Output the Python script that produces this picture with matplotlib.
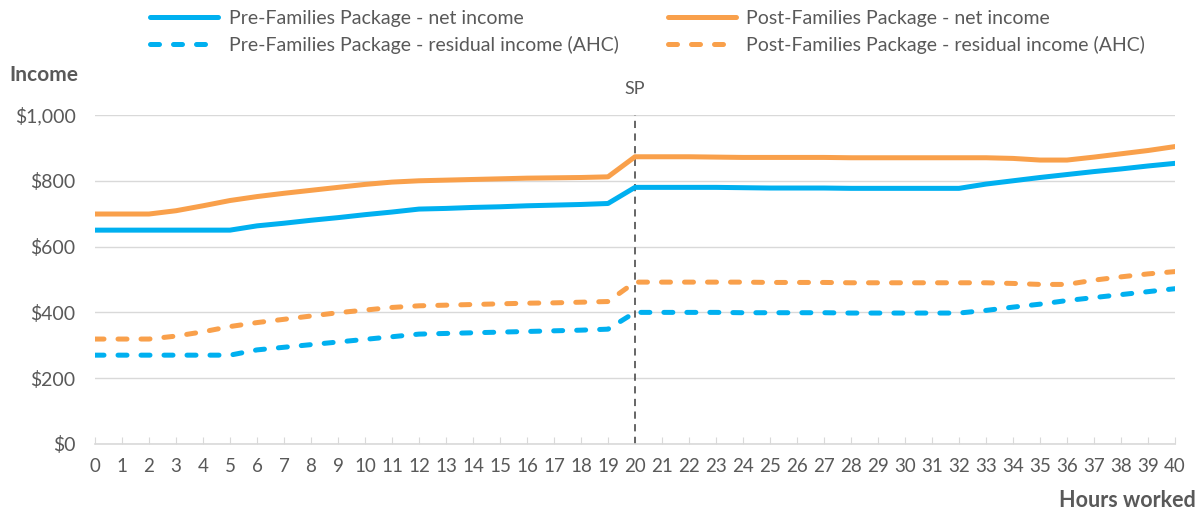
import matplotlib.pyplot as plt
from matplotlib.ticker import FuncFormatter

hours = list(range(0, 41))

pre_net = [650, 650, 650, 650, 650, 650, 663, 671, 680, 688, 697, 705, 714,
           716, 719, 721, 724, 726, 728, 731,
           780, 780, 780, 780, 779, 778, 778, 778, 777, 777, 777, 777, 777,
           790, 800, 810, 819, 828, 836, 845, 853]
post_net = [699, 699, 699, 709, 724, 740, 752, 762, 771, 780, 789, 796, 800,
            802, 804, 806, 808, 809, 810, 812,
            873, 873, 873, 872, 871, 871, 871, 871, 870, 870, 870, 870, 870,
            870, 868, 863, 863, 872, 882, 892, 904]
pre_resid = [270, 270, 270, 270, 270, 270, 286, 294, 302, 310, 318, 326, 334,
             336, 338, 340, 342, 344, 346, 349,
             400, 400, 400, 400, 399, 399, 399, 399, 398, 398, 398, 398, 398,
             406, 416, 425, 436, 445, 454, 463, 472]
post_resid = [319, 319, 319, 328, 341, 357, 369, 379, 389, 399, 407, 415, 420,
              422, 424, 426, 428, 429, 431, 433,
              492, 492, 492, 492, 492, 491, 491, 491, 490, 490, 490, 490, 490,
              490, 488, 485, 485, 498, 508, 517, 524]

sp_hours = 20

blue = '#00B0F0'
orange = '#F9A04B'
grey_text = '#595959'

plt.rcParams['font.family'] = ['Lato', 'DejaVu Sans']

fig = plt.figure(figsize=(12.04, 5.14), dpi=100)
ax = fig.add_axes([0.0789, 0.1362, 0.897, 0.6401])

dash = (1.8, 2.8)
l1, = ax.plot(hours, pre_net, color=blue, lw=3.6, solid_capstyle='round',
              label='Pre-Families Package - net income')
l2, = ax.plot(hours, pre_resid, color=blue, lw=3.6, dashes=dash, dash_capstyle='round',
              label='Pre-Families Package - residual income (AHC)')
l3, = ax.plot(hours, post_net, color=orange, lw=3.6, solid_capstyle='round',
              label='Post-Families Package - net income')
l4, = ax.plot(hours, post_resid, color=orange, lw=3.6, dashes=dash, dash_capstyle='round',
              label='Post-Families Package - residual income (AHC)')

ax.axvline(sp_hours, ymin=0, ymax=1, color=grey_text, lw=1.3, dashes=(4, 3), zorder=1)
ax.text(sp_hours, 1055, 'SP', ha='center', va='bottom', fontsize=13, color=grey_text)

ax.set_xlim(0, 40)
ax.set_ylim(0, 1000)
ax.set_xticks(hours)
ax.set_yticks(range(0, 1001, 200))
ax.yaxis.set_major_formatter(FuncFormatter(lambda v, p: f'${v:,.0f}'))
ax.grid(axis='y', color='#D9D9D9', lw=1)
ax.set_axisbelow(True)
for s in ['top', 'right', 'left']:
    ax.spines[s].set_visible(False)
ax.spines['bottom'].set_color('#D9D9D9')
ax.spines['bottom'].set_linewidth(1.2)
ax.tick_params(axis='x', direction='in', length=5, color='#D9D9D9', labelsize=13.5,
               labelcolor=grey_text, pad=10)
ax.tick_params(axis='y', length=0, labelsize=14, labelcolor=grey_text, pad=14)

fig.text(0.008, 0.855, 'Income', fontsize=15, fontweight='bold', color=grey_text, va='center')
fig.text(0.993, 0.027, 'Hours worked', fontsize=15.5, fontweight='bold', color=grey_text,
         ha='right', va='center')

fig.legend(handles=[l1, l2, l3, l4], loc='upper center', bbox_to_anchor=(0.538, 1.015),
           ncol=2, frameon=False, fontsize=14, labelcolor=grey_text,
           handlelength=3.5, handletextpad=0.55, columnspacing=2.5, labelspacing=0.45)

fig.savefig('out.png', dpi=100)
